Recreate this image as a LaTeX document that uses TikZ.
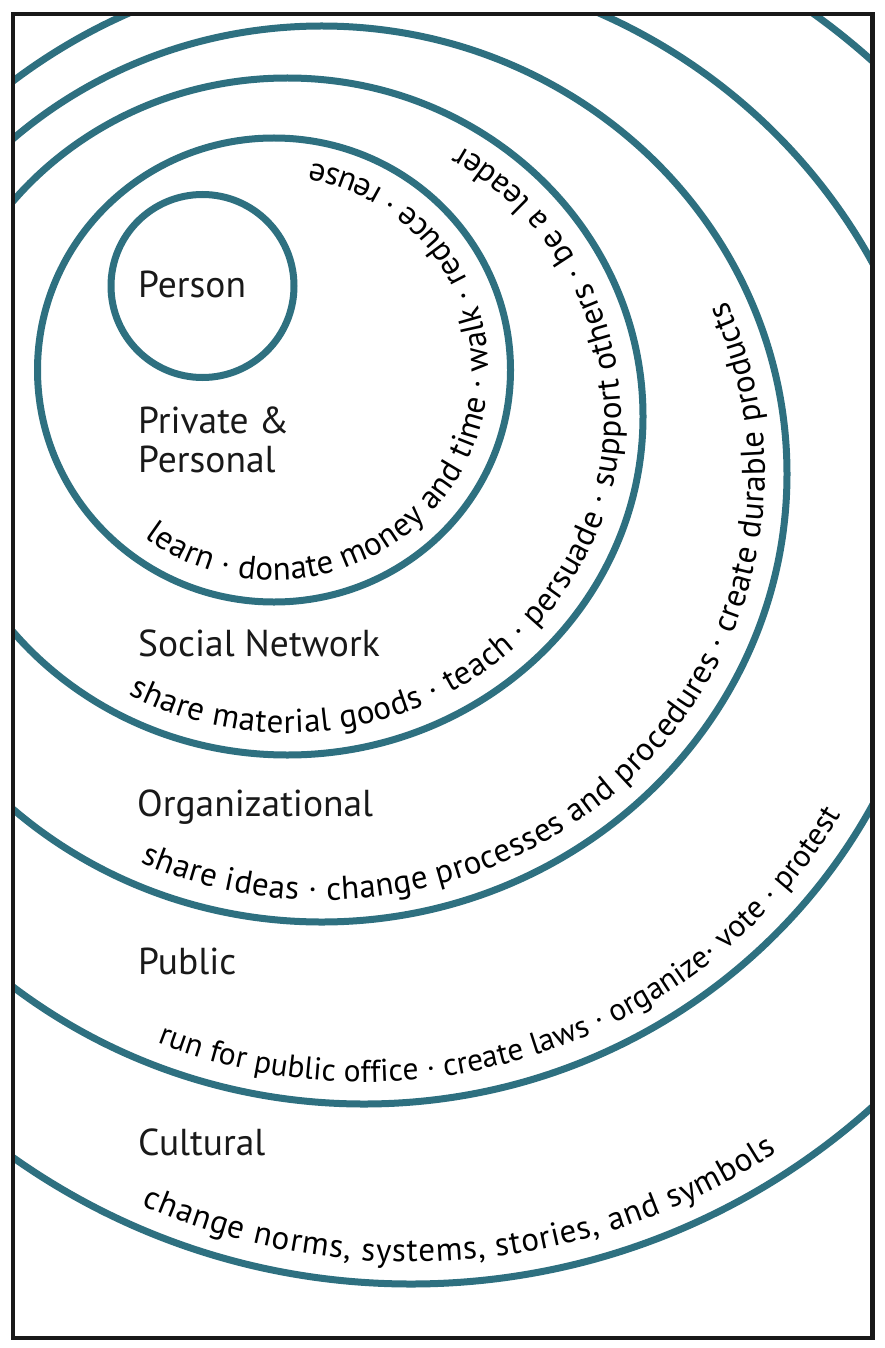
\documentclass[tikz,border=0pt]{standalone}
\usepackage{fontspec}
\setmainfont{PT Sans}
\usetikzlibrary{decorations.text}
\definecolor{ringteal}{RGB}{46,112,128}
\newcommand\curvefont{\fontsize{33}{39}\selectfont}
\newcommand\smallcurvefont{\fontsize{31.5}{37}\selectfont}
\tikzset{
  ring/.style={draw=ringteal, line width=7pt},
  lab/.style={anchor=base west, inner sep=0pt, font=\fontsize{37.5}{45}\selectfont, text=black!90},
  along/.style={decorate, decoration={text along path, text={|\curvefont|#1}, text align=fit to path}},
  alongsp/.style={decorate, decoration={text along path, text={|\smallcurvefont|#1}, text align=fit to path stretching spaces}}
}
\begin{document}
\begin{tikzpicture}[x=1pt,y=1pt]
\useasboundingbox (0,0) rectangle (884,-1348);
\fill[white] (0,0) rectangle (884,-1348);
\coordinate (c1) at (202.5,-286);
\coordinate (c2) at (274,-370);
\coordinate (c3) at (287.4,-416.5);
\coordinate (c4) at (321.7,-474);
\coordinate (c5) at (364,-534);
\coordinate (c6) at (411,-584);
\begin{scope}
  \clip (13,-14) rectangle (872.5,-1338);
  \draw[ring] (c1) circle[radius=91.5];
  \draw[ring] (c2) ellipse[x radius=236.5, y radius=232];
  \draw[ring] (c3) ellipse[x radius=355.6, y radius=338.5];
  \draw[ring] (c4) ellipse[x radius=465.3, y radius=448];
  \draw[ring] (c5) ellipse[x radius=578, y radius=570];
  \draw[ring] (c6) ellipse[x radius=694, y radius=700];
\end{scope}
\draw[line width=4.5pt, black!90] (13,-14) rectangle (872.5,-1338);
% labels
\node[lab] (person) at (138,-297) {Person};
\node[lab] (priv1) at (138,-433) {Private \&};
\node[lab] (priv2) at (138,-472) {Personal};
\node[lab] (social) at (138,-656) {Social Network};
\node[lab] (org) at (137,-816) {Organizational};
\node[lab] (public) at (138,-974) {Public};
\node[lab] (cult) at (138,-1155) {Cultural};
% curved texts
\path (c2) ++(233:214.5 and 210) coordinate (s2);
\path[along={learn · donate money and time · walk · reduce · reuse}] (s2) arc[start angle=233, end angle=440, x radius=214.5, y radius=210];
\path (c3) ++(241.5:333.6 and 316.5) coordinate (s3);
\path[along={share material goods · teach · persuade · support others · be a leader}] (s3) arc[start angle=241.5, end angle=418.8, x radius=333.6, y radius=316.5];
\path (c4) ++(245.9:443.3 and 426) coordinate (s4);
\path[along={share ideas · change processes and procedures · create durable products}] (s4) arc[start angle=245.9, end angle=383.9, x radius=443.3, y radius=426];
\path (c5) ++(248.2:556 and 548) coordinate (s5);
\path[alongsp={run for public office · create laws · organize· vote · protest}] (s5) arc[start angle=248.2, end angle=329.1, x radius=556, y radius=548];
\path (c6) ++(246.4:672 and 678) coordinate (s6);
\path[along={change norms, systems, stories, and symbols}] (s6) arc[start angle=246.4, end angle=303, x radius=672, y radius=678];
\end{tikzpicture}
\end{document}
